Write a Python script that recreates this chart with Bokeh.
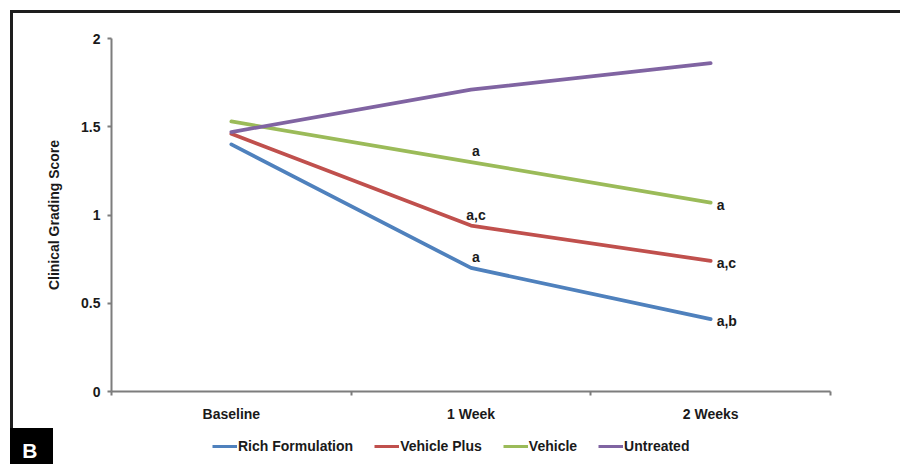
from bokeh.plotting import figure
from bokeh.layouts import column
from bokeh.models import (ColumnDataSource, FixedTicker, CustomJSTickFormatter, Legend,
                          LegendItem, LinearAxis, Range1d)
from bokeh.core.properties import value
from bokeh.embed import file_html
from bokeh.resources import INLINE

# Time points and mean clinical grading scores per treatment group
categories = ["Baseline", "1 Week", "2 Weeks"]
rich_formulation = [1.40, 0.70, 0.41]
vehicle_plus = [1.46, 0.94, 0.74]
vehicle = [1.53, 1.30, 1.07]
untreated = [1.47, 1.71, 1.86]

series_names = ["Rich Formulation", "Vehicle Plus", "Vehicle", "Untreated"]
series_colors = ["#4F81BD", "#C0504D", "#9BBB59", "#8064A2"]

# Significance marks shown at 1 week and at 2 weeks
marks_week1 = ["a", "a,c", "a", ""]
marks_week2 = ["a,b", "a,c", "a", ""]

y_ticks = [0, 0.5, 1, 1.5, 2]
panel_tag = "B"

FONT = "Liberation Sans"
TEXT = "#1a1a1a"
AXIS = "#7d7d7d"
x_pos = [i + 0.5 for i in range(len(categories))]
boundaries = [float(i) for i in range(len(categories) + 1)]

# Panel frame rules (top and left), painted behind the transparent canvas
INK = "linear-gradient(#1e1e1e, #1e1e1e)"
frame_bg = (f"{INK} 10px 10px / 890px 3px no-repeat, "
            f"{INK} 10px 10px / 3px 418px no-repeat, white")

p = figure(width=900, height=428, output_backend="svg", toolbar_location=None,
           x_range=Range1d(0, len(categories)), y_range=Range1d(0, 2),
           min_border_left=111, min_border_right=70, min_border_top=38,
           min_border_bottom=37, background_fill_color="white",
           border_fill_color=None, outline_line_color=None,
           styles={"background": frame_bg})
p.grid.visible = False

# y axis
p.yaxis.ticker = FixedTicker(ticks=y_ticks)
p.yaxis.formatter = CustomJSTickFormatter(code="return String(tick)")
p.yaxis.axis_label = "Clinical Grading Score"
p.yaxis.axis_label_standoff = 16
p.yaxis.axis_label_text_font = FONT
p.yaxis.axis_label_text_font_style = "bold"
p.yaxis.axis_label_text_font_size = "14px"
p.yaxis.axis_label_text_color = TEXT
p.yaxis.minor_tick_line_color = None

# x axis: labels at category centres, ticks at category boundaries
p.xaxis.ticker = FixedTicker(ticks=x_pos, minor_ticks=boundaries)
p.xaxis.formatter = CustomJSTickFormatter(args=dict(labels=categories),
                                          code="return labels[Math.floor(tick)]")
p.xaxis.major_tick_line_color = None
p.xaxis.major_tick_in = 0
p.xaxis.major_tick_out = 4
p.xaxis.minor_tick_line_color = AXIS
p.xaxis.minor_tick_line_width = 2
p.xaxis.minor_tick_in = 0
p.xaxis.minor_tick_out = 4

for ax in (p.xaxis, p.yaxis):
    ax.axis_line_color = AXIS
    ax.axis_line_width = 2
    ax.major_label_text_font = FONT
    ax.major_label_text_font_style = "bold"
    ax.major_label_text_font_size = "14px"
    ax.major_label_text_color = TEXT
p.yaxis.major_tick_line_color = AXIS
p.yaxis.major_tick_line_width = 2
p.yaxis.major_tick_in = 0
p.yaxis.major_tick_out = 4
p.yaxis.major_label_standoff = 7
p.xaxis.major_label_standoff = 10

all_series = [rich_formulation, vehicle_plus, vehicle, untreated]
for vals, color in zip(all_series, series_colors):
    p.line(x_pos, vals, line_color=color, line_width=3.75,
           line_join="round", line_cap="round")

# significance marks
wk1 = ColumnDataSource(dict(x=[x_pos[1]] * len(all_series),
                            y=[v[1] for v in all_series], t=marks_week1))
p.text("x", "y", text="t", source=wk1, text_align="center",
       text_baseline="alphabetic", x_offset=5, y_offset=-11,
       text_font=value(FONT), text_font_style="bold",
       text_font_size="14px", text_color=TEXT)
wk2 = ColumnDataSource(dict(x=[x_pos[2]] * len(all_series),
                            y=[v[2] for v in all_series], t=marks_week2))
p.text("x", "y", text="t", source=wk2, text_align="left",
       text_baseline="middle", x_offset=6, y_offset=2,
       text_font=value(FONT), text_font_style="bold",
       text_font_size="14px", text_color=TEXT)

# Bottom strip: legend and the black panel tag (the tag box is painted in CSS)
strip = figure(width=900, height=36, output_backend="svg", toolbar_location=None,
               x_range=Range1d(0, 900), y_range=Range1d(0, 36),
               x_axis_type=None, y_axis_type=None,
               min_border=0, min_border_left=0, min_border_right=0,
               min_border_top=0, min_border_bottom=0,
               background_fill_color=None, border_fill_color=None,
               outline_line_color=None,
               styles={"background": "linear-gradient(#000, #000) 10px 0px / 43px 36px no-repeat, white"})
strip.grid.visible = False

items = []
for name, color in zip(series_names, series_colors):
    key = strip.line([0, 0], [-10, -10], line_color=color, line_width=3)
    items.append(LegendItem(label=name, renderers=[key]))

legend = Legend(items=items, orientation="horizontal", location=(101, 10),
                label_text_font=FONT, label_text_font_style="bold",
                label_text_font_size="14px", label_text_color=TEXT,
                glyph_width=25, glyph_height=14, label_height=14,
                label_standoff=1, spacing=21, padding=0, margin=0,
                border_line_color=None, background_fill_alpha=0)
strip.add_layout(legend)

# the white panel letter, set as the single label of a bare left axis
tag_axis = LinearAxis(ticker=FixedTicker(ticks=[14.5], minor_ticks=[]),
                      formatter=CustomJSTickFormatter(args=dict(tag=panel_tag),
                                                      code="return tag"),
                      axis_line_color=None, major_tick_line_color=None,
                      minor_tick_line_color=None, major_tick_in=0,
                      major_tick_out=0, major_label_standoff=74,
                      major_label_text_font=FONT,
                      major_label_text_font_style="bold",
                      major_label_text_font_size="21px",
                      major_label_text_color="white")
strip.add_layout(tag_axis, "left")

page = column(p, strip, spacing=0)
open("out.html", "w").write(file_html(page, INLINE))
